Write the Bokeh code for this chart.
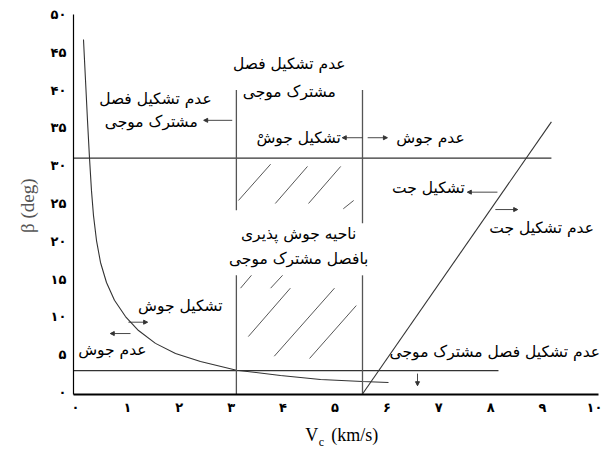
from bokeh.plotting import figure
from bokeh.models import Range1d, FixedTicker, Arrow, NormalHead, ColumnDataSource
from bokeh.core.properties import value
from bokeh.embed import file_html
from bokeh.resources import INLINE

# Persian digit tick labels
fa_digits = "۰۱۲۳۴۵۶۷۸۹"
def fa(n):
    return "".join(fa_digits[int(c)] for c in str(n))

x_ticks = list(range(0, 11))
y_ticks = list(range(0, 51, 5))

# Lower boundary curve of the welding window, read point by point
curve_v = [0.154, 0.193, 0.231, 0.270, 0.308, 0.347, 0.405, 0.482, 0.597, 0.751, 0.963,
           1.214, 1.541, 1.927, 2.408, 3.102, 3.950, 4.721, 5.530, 6.031]
curve_b = [46.7, 41.3, 36.0, 31.0, 26.7, 23.4, 20.1, 17.2, 14.55, 12.2, 10.05,
           8.2, 6.5, 5.16, 4.1, 2.95, 2.25, 1.72, 1.46, 1.32]

# Horizontal limits
upper_b = 31.0
upper_v = [-0.04, 9.17]
lower_b = 2.9
lower_v = [-0.04, 8.15]

# Jet limit (slanted line)
jet_v = [5.52, 9.17]
jet_b = [-0.3, 35.8]

# Vertical limits of the wavy-interface band (broken around the centre text)
vert_x0 = [3.10, 3.10, 5.53, 5.53]
vert_y0 = [40.0, 15.5, 40.0, 15.5]
vert_x1 = [3.10, 3.10, 5.53, 5.53]
vert_y1 = [24.1, -0.26, 22.4, -0.26]

# Hatching inside the weldable window
hatch_x0 = [3.14, 3.85, 4.49, 5.16, 3.18, 3.76, 3.33, 3.83, 4.51]
hatch_y0 = [25.4, 25.0, 25.0, 24.3, 13.8, 13.8, 7.4, 4.8, 4.5]
hatch_x1 = [3.76, 4.47, 5.11, 5.36, 3.39, 3.99, 4.14, 4.99, 5.41]
hatch_y1 = [30.2, 29.9, 29.9, 25.4, 15.5, 15.5, 13.8, 13.8, 11.5]

# Annotation arrows (start -> head)
arr_x0 = [3.02, 5.53, 5.63, 8.13, 8.09, 1.02, 1.06, 6.59]
arr_y0 = [36.0, 33.7, 33.7, 26.5, 24.2, 9.3, 7.8, 2.5]
arr_x1 = [2.47, 5.14, 6.01, 7.55, 8.52, 1.39, 0.67, 6.59]
arr_y1 = [36.0, 33.7, 33.7, 26.5, 24.2, 9.3, 7.8, 0.9]

# Region labels
lbl_text = [
    "عدم تشکیل فصل", "مشترک موجی",
    "عدم تشکیل فصل", "مشترک موجی",
    "تشکیل جوشْ", "عدم جوش",
    "تشکیل جت", "عدم تشکیل جت",
    "ناحیه جوش پذیری", "بافصل مشترک موجی",
    "تشکیل جوش", "عدم جوش",
    "عدم تشکیل فصل مشترک موجی",
]
lbl_x = [1.54, 1.46, 4.12, 4.12, 4.30, 6.84, 6.80, 8.98, 4.30, 4.30, 2.02, 0.71, 8.08]
lbl_y = [38.8, 35.8, 43.5, 39.7, 33.6, 33.6, 27.0, 21.7, 21.0, 17.6, 11.4, 5.6, 5.3]

# Axis titles
title_y_text = "β (deg)"
title_x_main = "V"
title_x_sub = "c"
title_x_unit = "(km/s)"

# The frame spans the whole canvas; the axes sit at fixed positions inside it
p = figure(width=604, height=450, output_backend="svg", toolbar_location=None,
           x_range=Range1d(-1.445, 10.193), y_range=Range1d(-7.67, 51.85),
           min_border=0)
p.outline_line_color = None
p.grid.visible = False
p.background_fill_color = "white"
p.border_fill_color = "white"

for ax, ticks in ((p.xaxis, x_ticks), (p.yaxis, y_ticks)):
    ax.ticker = FixedTicker(ticks=ticks)
    ax.major_label_overrides = {t: fa(t) for t in ticks}
    ax.major_tick_line_color = None
    ax.minor_tick_line_color = None
    ax.axis_line_color = "black"
    ax.major_label_text_font = "DejaVu Sans"
    ax.major_label_text_font_style = "bold"
    ax.major_label_text_font_size = "13px"
    ax.major_label_text_color = "black"
p.xaxis.fixed_location = -0.26
p.xaxis.bounds = (-0.04, 10.08)
p.yaxis.fixed_location = -0.04
p.yaxis.bounds = (-0.26, 50.0)
p.xaxis.axis_line_width = 2
p.yaxis.axis_line_width = 1.2
p.xaxis.major_label_standoff = 0
p.yaxis.major_label_standoff = 1

line_col = "#333333"
p.line(curve_v, curve_b, line_color=line_col, line_width=1.1)
p.line(upper_v, [upper_b, upper_b], line_color=line_col, line_width=1.1)
p.line(lower_v, [lower_b, lower_b], line_color=line_col, line_width=1.1)
p.line(jet_v, jet_b, line_color=line_col, line_width=1.1)
p.segment(vert_x0, vert_y0, vert_x1, vert_y1, line_color="#555555", line_width=1.3)
p.segment(hatch_x0, hatch_y0, hatch_x1, hatch_y1, line_color="#444444", line_width=0.9)

for x0, y0, x1, y1 in zip(arr_x0, arr_y0, arr_x1, arr_y1):
    p.add_layout(Arrow(x_start=x0, y_start=y0, x_end=x1, y_end=y1,
                       line_color="#333333", line_width=0.9,
                       end=NormalHead(size=4, fill_color="#333333", line_color="#333333")))

src = ColumnDataSource(dict(x=lbl_x, y=lbl_y, t=lbl_text))
p.text("x", "y", text="t", source=src, text_align="center", text_baseline="middle",
       text_font=value("DejaVu Sans"), text_font_size="15.5px", text_color="black")

# Axis titles drawn as text below / left of the axes
p.text([-0.925], [24.7], text=[title_y_text], angle=1.5708, text_align="center",
       text_baseline="middle", text_font=value("Liberation Serif"),
       text_font_size="19px", text_color="#555555")
p.text([4.55], [-5.6], text=[title_x_main], text_align="center", text_baseline="middle",
       text_font=value("Liberation Serif"), text_font_size="18px", text_color="black")
p.text([4.74], [-6.55], text=[title_x_sub], text_align="center", text_baseline="middle",
       text_font=value("Liberation Serif"), text_font_size="12px", text_color="black")
p.text([4.93], [-5.6], text=[title_x_unit], text_align="left", text_baseline="middle",
       text_font=value("Liberation Serif"), text_font_size="18px", text_color="black")

open("out.html", "w").write(file_html(p, INLINE))
